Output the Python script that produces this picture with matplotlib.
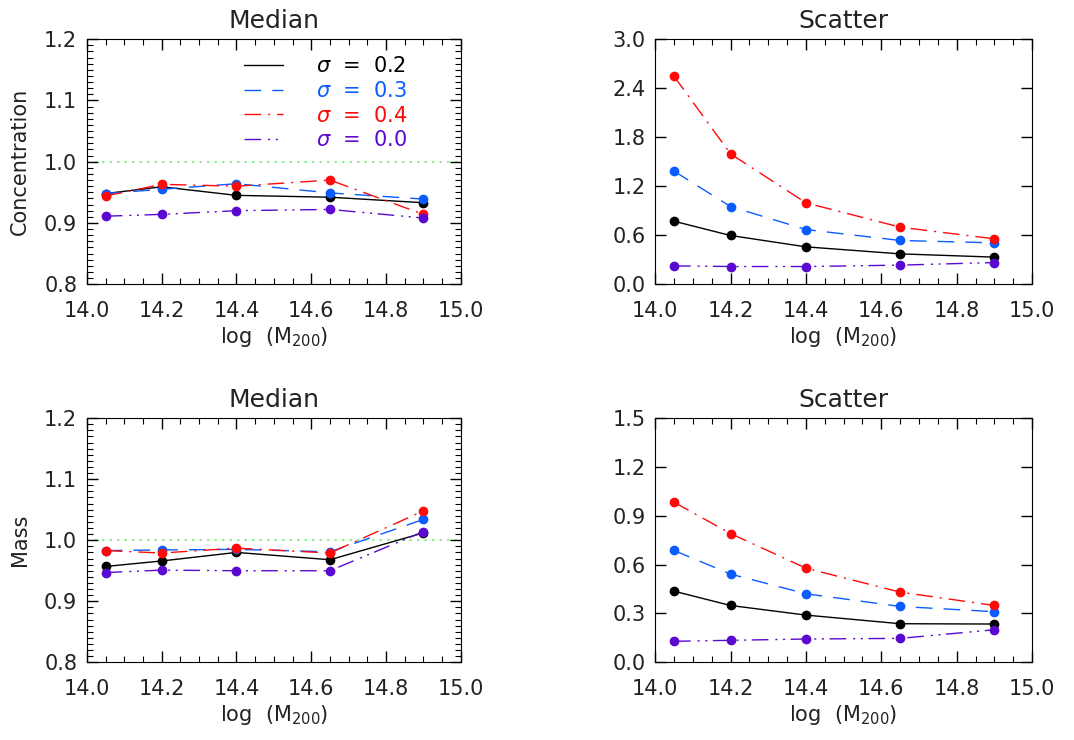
import matplotlib
matplotlib.use("Agg")
import matplotlib.pyplot as plt
from matplotlib.ticker import MultipleLocator
from matplotlib.lines import Line2D

plt.rcParams["font.family"] = ["DejaVu Sans"]
plt.rcParams["mathtext.fontset"] = "dejavusans"

log_m = [14.05, 14.2, 14.4, 14.65, 14.9]

# concentration, median
conc_med_s02 = [0.948, 0.959, 0.945, 0.942, 0.933]
conc_med_s03 = [0.948, 0.955, 0.964, 0.949, 0.939]
conc_med_s04 = [0.944, 0.963, 0.960, 0.970, 0.914]
conc_med_s00 = [0.911, 0.914, 0.920, 0.922, 0.908]

# concentration, scatter
conc_sct_s02 = [0.771, 0.596, 0.457, 0.371, 0.331]
conc_sct_s03 = [1.384, 0.951, 0.669, 0.535, 0.506]
conc_sct_s04 = [2.547, 1.596, 0.996, 0.698, 0.555]
conc_sct_s00 = [0.224, 0.216, 0.216, 0.233, 0.265]

# mass, median
mass_med_s02 = [0.957, 0.966, 0.980, 0.968, 1.012]
mass_med_s03 = [0.983, 0.984, 0.985, 0.981, 1.034]
mass_med_s04 = [0.983, 0.979, 0.987, 0.979, 1.048]
mass_med_s00 = [0.947, 0.951, 0.950, 0.950, 1.014]

# mass, scatter
mass_sct_s02 = [0.437, 0.349, 0.290, 0.237, 0.235]
mass_sct_s03 = [0.687, 0.542, 0.421, 0.343, 0.311]
mass_sct_s04 = [0.983, 0.791, 0.578, 0.431, 0.349]
mass_sct_s00 = [0.129, 0.135, 0.143, 0.147, 0.200]

sigma_labels = ["0.2", "0.3", "0.4", "0.0"]
colors = ["black", "#0a5cff", "#ff0a0a", "#5a0ad0"]
styles = ["-", (0, (12, 8)), (0, (12, 5, 1.5, 5)), (0, (12, 5, 1.5, 4, 1.5, 4))]
text_color = "#222222"


def draw(ax, series, ylim, major, minor, title, ylabel=None, ref=False):
    if ref:
        ax.axhline(1.0, color="#77ee77", ls=(0, (1.5, 3)), lw=1.2, zorder=1)
    for ys, c, ls in zip(series, colors, styles):
        ax.plot(log_m, ys, color=c, ls=ls, lw=1.0, marker="o", ms=6, zorder=3)
    ax.set_xlim(14.0, 15.0)
    ax.set_ylim(*ylim)
    ax.xaxis.set_major_locator(MultipleLocator(0.2))
    ax.xaxis.set_minor_locator(MultipleLocator(0.05))
    ax.yaxis.set_major_locator(MultipleLocator(major))
    if minor:
        ax.yaxis.set_minor_locator(MultipleLocator(minor))
    ax.xaxis.set_major_formatter(plt.FormatStrFormatter("%.1f"))
    ax.yaxis.set_major_formatter(plt.FormatStrFormatter("%.1f"))
    ax.tick_params(which="both", direction="in", top=True, right=True,
                   labelsize=15, labelcolor=text_color)
    ax.tick_params(axis="x", pad=12)
    ax.tick_params(axis="y", pad=7)
    ax.tick_params(which="major", length=8, width=1)
    ax.tick_params(which="minor", length=4, width=0.8)
    ax.set_title(title, fontsize=18, pad=8, color=text_color)
    ax.set_xlabel("log  (M$_{200}$)", fontsize=15, color=text_color, labelpad=3)
    if ylabel:
        ax.set_ylabel(ylabel, fontsize=15, labelpad=10, color=text_color)


fig = plt.figure(figsize=(10.74, 7.40), dpi=100)
ax1 = fig.add_axes([0.081, 0.616, 0.348, 0.331])
ax2 = fig.add_axes([0.610, 0.616, 0.351, 0.331])
ax3 = fig.add_axes([0.081, 0.105, 0.348, 0.330])
ax4 = fig.add_axes([0.610, 0.105, 0.351, 0.330])

draw(ax1, [conc_med_s02, conc_med_s03, conc_med_s04, conc_med_s00],
     (0.8, 1.2), 0.1, 0.01, "Median", "Concentration", ref=True)
draw(ax2, [conc_sct_s02, conc_sct_s03, conc_sct_s04, conc_sct_s00],
     (0.0, 3.0), 0.6, None, "Scatter")
draw(ax3, [mass_med_s02, mass_med_s03, mass_med_s04, mass_med_s00],
     (0.8, 1.2), 0.1, 0.01, "Median", "Mass", ref=True)
draw(ax4, [mass_sct_s02, mass_sct_s03, mass_sct_s04, mass_sct_s00],
     (0.0, 1.5), 0.3, None, "Scatter")

handles = [Line2D([], [], color=c, ls=ls, lw=1.0) for c, ls in zip(colors, styles)]
labels = [r"$\sigma$  =  " + s for s in sigma_labels]
leg = ax1.legend(handles, labels, loc="upper left", bbox_to_anchor=(0.42, 0.93),
                 frameon=False, fontsize=15, handlelength=1.85, handletextpad=1.6,
                 labelspacing=0.22, borderaxespad=0, borderpad=0,
                 labelcolor="linecolor")

fig.savefig("out.png", dpi=100)
